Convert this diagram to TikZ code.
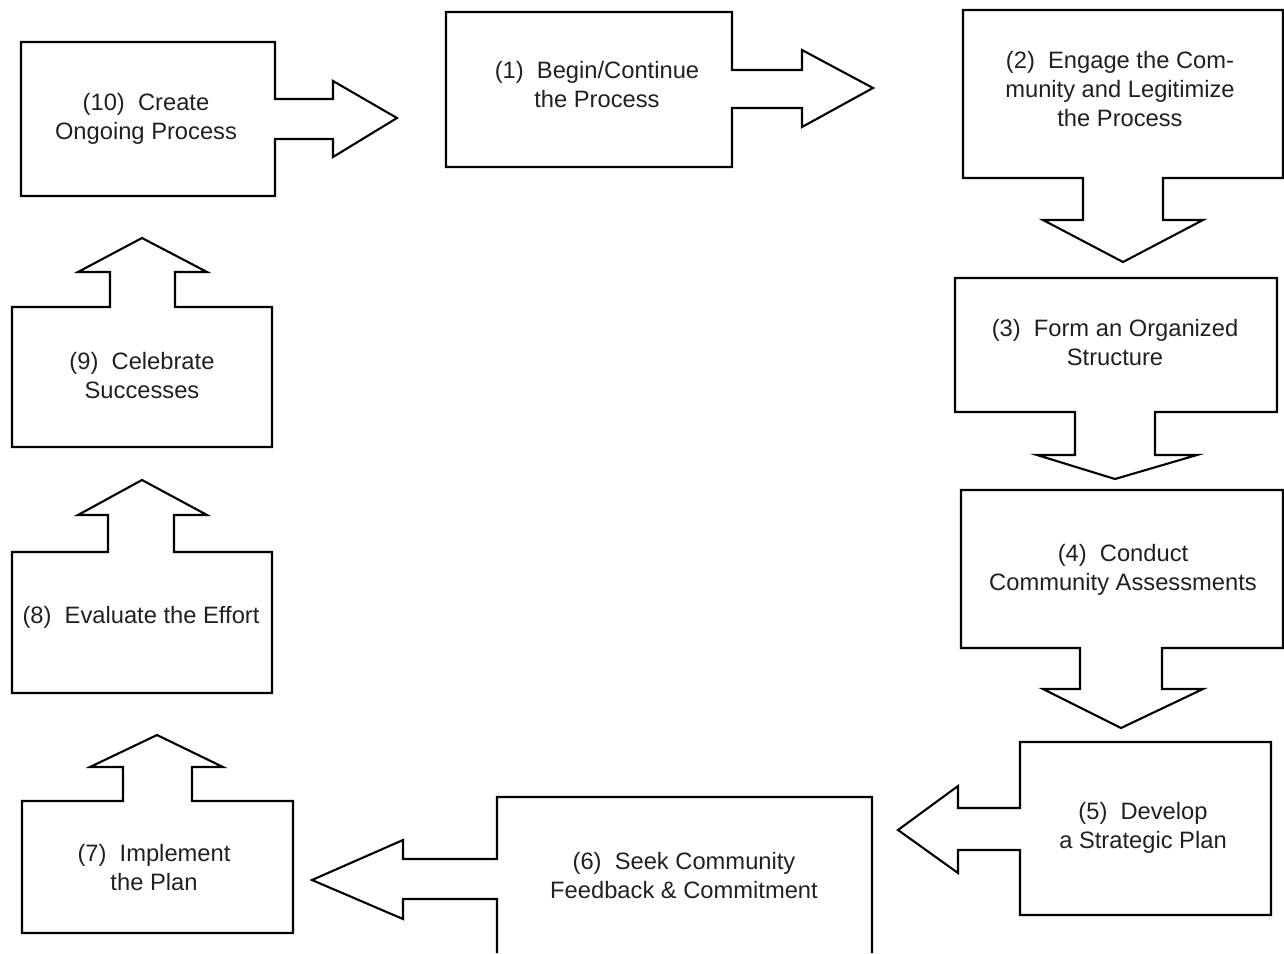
\documentclass[tikz,border=0pt]{standalone}
\usepackage{fontspec}
\setmainfont{Liberation Sans}
\definecolor{ink}{HTML}{231F20}
\begin{document}
\begin{tikzpicture}[x=0.02cm,y=-0.02cm,
  outline/.style={draw=black,line width=1.2pt,line join=miter},
  label/.style={align=center,text=ink,inner sep=0pt,font=\fontsize{13.5}{16.5}\selectfont}]
\useasboundingbox (0,0) rectangle (1284,953);
% (10)
\draw[outline] (21,42) -- (275,42) -- (275,99) -- (333,99) -- (333,81) -- (397,118) -- (333,157) -- (333,139) -- (275,139) -- (275,196) -- (21,196) -- cycle;
% (1)
\draw[outline] (446,12) -- (732,12) -- (732,70) -- (802,70) -- (802,50) -- (873,88) -- (802,127) -- (802,108) -- (732,108) -- (732,167) -- (446,167) -- cycle;
% (2)
\draw[outline] (963,10) -- (1283,10) -- (1283,178) -- (1163,178) -- (1163,220) -- (1203,220) -- (1123,262) -- (1043,220) -- (1083,220) -- (1083,178) -- (963,178) -- cycle;
% (3)
\draw[outline] (955,278) -- (1277,278) -- (1277,412) -- (1155,412) -- (1155,455) -- (1197,455) -- (1115,479) -- (1037,455) -- (1075,455) -- (1075,412) -- (955,412) -- cycle;
% (4)
\draw[outline] (961,490) -- (1283,490) -- (1283,648) -- (1162,648) -- (1162,689) -- (1203,689) -- (1121,728) -- (1043,689) -- (1080,689) -- (1080,648) -- (961,648) -- cycle;
% (5)
\draw[outline] (1020,742) -- (1271,742) -- (1271,915) -- (1020,915) -- (1020,850) -- (958,850) -- (958,873) -- (898,830) -- (958,786) -- (958,808) -- (1020,808) -- cycle;
% (6)
\draw[outline] (497,953) -- (497,899) -- (403,899) -- (403,919) -- (312,880) -- (403,840) -- (403,859) -- (497,859) -- (497,797) -- (872,797) -- (872,953);
% (7)
\draw[outline] (22,801) -- (123,801) -- (123,767) -- (90,767) -- (157,735) -- (223,767) -- (192,767) -- (192,801) -- (293,801) -- (293,933) -- (22,933) -- cycle;
% (8)
\draw[outline] (12,552) -- (108,552) -- (108,515) -- (78,515) -- (142,480) -- (207,515) -- (174,515) -- (174,552) -- (272,552) -- (272,693) -- (12,693) -- cycle;
% (9)
\draw[outline] (12,307) -- (110,307) -- (110,272) -- (78,272) -- (142,238) -- (207,272) -- (175,272) -- (175,307) -- (272,307) -- (272,447) -- (12,447) -- cycle;
% labels
\node[label] (t1) at (597,85) {(1)\ \ Begin/Continue\\the Process};
\node[label] (t2) at (1120,89) {(2)\ \ Engage the Com-\\munity and Legitimize\\the Process};
\node[label] (t3) at (1115,343) {(3)\ \ Form an Organized\\Structure};
\node[label] (t4) at (1123,570) {(4)\ \ Conduct\\Community Assessments};
\node[label] (t5) at (1143,828) {(5)\ \ Develop\\a Strategic Plan};
\node[label] (t6) at (684,876) {(6)\ \ Seek Community\\Feedback \& Commitment};
\node[label] (t7) at (154,868) {(7)\ \ Implement\\the Plan};
\node[label] (t8) at (141,617) {(8)\ \ Evaluate the Effort};
\node[label] (t9) at (142,376) {(9)\ \ Celebrate\\Successes};
\node[label] (t10) at (146,119) {(10)\ \ Create\\Ongoing Process};
\end{tikzpicture}
\end{document}
